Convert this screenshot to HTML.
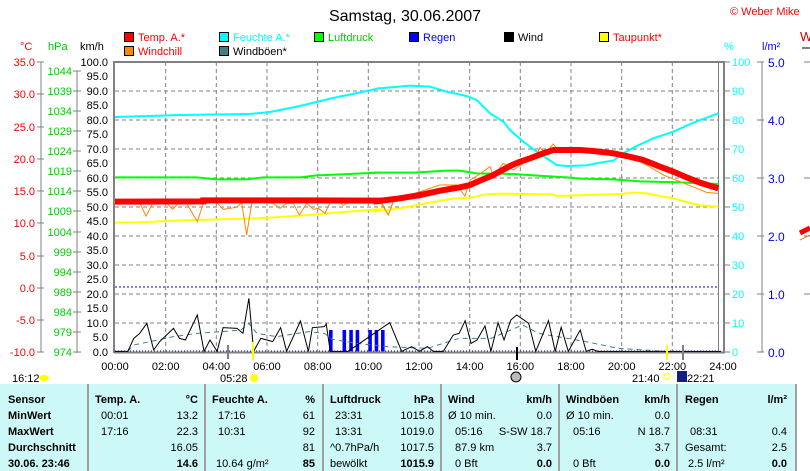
<!DOCTYPE html>
<html><head><meta charset="utf-8"><style>
html,body{margin:0;padding:0;background:#fff;width:810px;height:471px;overflow:hidden}
svg{display:block;font-family:"Liberation Sans",sans-serif;font-size:11px}
.b{font-weight:bold}
</style></head><body>
<svg width="810" height="471" viewBox="0 0 810 471" xmlns="http://www.w3.org/2000/svg">
<text x="405" y="21" font-size="16" text-anchor="middle">Samstag, 30.06.2007</text>
<text x="730" y="15" fill="#f00">© Weber Mike</text>
<text x="800" y="41" fill="#c00" font-size="13">W</text>
<line x1="802" y1="48" x2="810" y2="48" stroke="#808080" stroke-width="2"/>
<g font-size="11">
<rect x="124.5" y="32.5" width="9" height="9" fill="#f00" stroke="#000"/><text x="138" y="41" fill="#f00">Temp. A.*</text>
<rect x="219.5" y="32.5" width="9" height="9" fill="#0ff" stroke="#000"/><text x="233" y="41" fill="#0ff">Feuchte A.*</text>
<rect x="314.5" y="32.5" width="9" height="9" fill="#0f0" stroke="#000"/><text x="328" y="41" fill="#0c0">Luftdruck</text>
<rect x="409.5" y="32.5" width="9" height="9" fill="#00f" stroke="#000"/><text x="423" y="41" fill="#00f">Regen</text>
<rect x="504.5" y="32.5" width="9" height="9" fill="#000" stroke="#000"/><text x="518" y="41">Wind</text>
<rect x="599.5" y="32.5" width="9" height="9" fill="#ff0" stroke="#000"/><text x="613" y="41" fill="#f00">Taupunkt*</text>
<rect x="124.5" y="46.5" width="9" height="9" fill="#f80" stroke="#000"/><text x="138" y="55" fill="#f00">Windchill</text>
<rect x="219.5" y="46.5" width="9" height="9" fill="#408080" stroke="#000"/><text x="233" y="55">Windböen*</text>
</g>
<text x="20" y="50" fill="#f00">°C</text>
<text x="48" y="50" fill="#0c0">hPa</text>
<text x="80" y="50">km/h</text>
<text x="724" y="50" fill="#0ff">%</text>
<text x="762" y="50" fill="#00f">l/m²</text>
<line x1="41" y1="62" x2="41" y2="352" stroke="#808080"/>
<line x1="77" y1="71" x2="77" y2="353" stroke="#808080"/>
<g stroke="#808080" stroke-dasharray="4,3" stroke-width="1">
<line x1="165.7" y1="62" x2="165.7" y2="352"/><line x1="216.3" y1="62" x2="216.3" y2="352"/>
<line x1="267" y1="62" x2="267" y2="352"/><line x1="317.7" y1="62" x2="317.7" y2="352"/>
<line x1="368.3" y1="62" x2="368.3" y2="352"/><line x1="419" y1="62" x2="419" y2="352"/>
<line x1="469.7" y1="62" x2="469.7" y2="352"/><line x1="520.3" y1="62" x2="520.3" y2="352"/>
<line x1="571" y1="62" x2="571" y2="352"/><line x1="621.7" y1="62" x2="621.7" y2="352"/>
<line x1="672.3" y1="62" x2="672.3" y2="352"/>
<line x1="115" y1="91" x2="718" y2="91"/><line x1="115" y1="120" x2="718" y2="120"/>
<line x1="115" y1="149" x2="718" y2="149"/><line x1="115" y1="178" x2="718" y2="178"/>
<line x1="115" y1="207" x2="718" y2="207"/><line x1="115" y1="236" x2="718" y2="236"/>
<line x1="115" y1="265" x2="718" y2="265"/><line x1="115" y1="294" x2="718" y2="294"/>
<line x1="115" y1="323" x2="718" y2="323"/>
</g>
<line x1="115" y1="287" x2="718" y2="287" stroke="#00f" stroke-dasharray="2,2"/>
<line x1="115" y1="351" x2="718" y2="351" stroke="#00f" stroke-dasharray="1,2"/>
<line x1="114" y1="62" x2="725" y2="62" stroke="#808080" stroke-width="2"/>
<line x1="114" y1="61" x2="114" y2="353" stroke="#808080" stroke-width="2"/>
<line x1="114" y1="352.5" x2="725" y2="352.5" stroke="#808080" stroke-width="2"/>
<line x1="718.5" y1="62" x2="718.5" y2="353" stroke="#808080"/>
<line x1="724" y1="61" x2="724" y2="353" stroke="#808080" stroke-width="2"/>
<line x1="762" y1="62" x2="762" y2="352" stroke="#808080"/>

<g transform="translate(110,280) scale(0.3968,0.33333)">
<g fill="#00f"><rect x="552" y="150" width="9" height="64"/><rect x="586" y="150" width="9" height="64"/><rect x="603" y="150" width="9" height="64"/><rect x="619" y="150" width="9" height="64"/><rect x="651" y="150" width="9" height="64"/><rect x="667" y="150" width="9" height="64"/><rect x="683" y="150" width="9" height="64"/></g>
<polyline fill="none" stroke="#408080" stroke-dasharray="5,4" vector-effect="non-scaling-stroke" points="45,214 60,195 100,185 160,170 220,160 280,155 330,150 350,130 370,160 420,170 500,155 540,160 560,178 620,190 700,200 800,205 880,175 960,175 1040,135 1080,160 1200,185 1280,205 1400,214"/>
<polyline fill="none" stroke="#000" vector-effect="non-scaling-stroke" points="12,214 45,214 60,175 75,160 93,130 110,210 125,185 160,145 175,175 190,180 220,105 237,214 252,180 270,214 285,143 320,145 335,160 350,55 362,214 380,175 410,185 430,143 445,214 480,123 500,214 510,143 540,140 545,132 555,214 600,214 705,128 735,214 760,200 780,214 800,200 815,214 840,214 865,165 880,160 895,122 910,190 925,180 945,138 960,214 978,128 993,180 1010,120 1025,105 1055,130 1073,214 1105,122 1122,214 1137,142 1155,214 1185,150 1200,214 1215,208 1230,214 1540,214"/>
</g>

<g transform="translate(110,170) scale(0.33333)" fill="none">
<polyline stroke="#0f0" stroke-width="2" vector-effect="non-scaling-stroke" points="15,22 260,22 320,28 410,28 460,22 570,22 620,16 720,12 800,8 815,8"/>
<polyline stroke="#ff0" stroke-width="2" vector-effect="non-scaling-stroke" points="15,158 90,157 200,152 320,148 420,146 530,140 620,133 700,126 780,120 815,117"/>
<polyline stroke="#f80" stroke-width="1" vector-effect="non-scaling-stroke" points="10,95 90,100 108,138 128,100 170,100 188,118 205,100 230,100 262,155 280,100 320,98 340,118 380,112 395,98 410,195 425,100 440,92 490,100 510,115 530,100 550,100 568,135 590,100 610,118 625,115 645,130 660,98 690,98 700,106 715,98 815,98 835,135 850,92 815,98"/>
<polyline stroke="#f00" stroke-width="6" vector-effect="non-scaling-stroke" points="15,95 280,94 280,91 455,91 515,91 570,91 815,92"/>
</g>
<g transform="translate(380,70) scale(0.33333)" fill="none">
<polyline stroke="#0f0" stroke-width="2" vector-effect="non-scaling-stroke" points="-20,308 100,308 200,302 240,302 290,310 400,312 460,316 560,322 600,326 700,328 780,334 900,337 1015,342"/>
<polyline stroke="#ff0" stroke-width="2" vector-effect="non-scaling-stroke" points="-20,425 60,415 150,398 220,386 270,383 320,373 370,371 520,373 530,378 620,375 720,372 760,368 800,370 840,378 880,385 920,396 960,406 1015,410"/>
<polyline stroke="#0ff" stroke-width="2" vector-effect="non-scaling-stroke" points="0,55 90,47 150,50 200,65 260,78 290,90 330,130 370,155 390,180 430,215 470,245 500,265 530,285 560,288 620,286 660,278 700,272 730,250 770,228 820,205 880,185 940,158 1015,130"/>
<polyline stroke="#f80" stroke-width="1" vector-effect="non-scaling-stroke" points="0,395 25,435 40,395 60,385 120,365 180,345 230,345 255,378 270,330 290,318 330,290 340,318 370,280 400,300 430,280 470,255 480,232 495,250 520,222 540,248 600,242 700,255 760,265 800,285 850,315 900,335 950,355 980,367 1015,370"/>
<polyline stroke="#f00" stroke-width="6" vector-effect="non-scaling-stroke" points="-20,395 60,385 120,375 180,362 210,357 240,352 270,345 300,332 340,315 390,288 420,275 450,265 490,250 520,240 600,240 640,243 700,250 740,258 790,270 840,290 880,305 920,322 960,338 1015,355"/>
</g>
<polyline fill="none" stroke="#0ff" stroke-width="2" points="115,117 150,116 180,115 250,114 270,112 300,106 333,98 367,91 380,88"/>
<line x1="800" y1="233" x2="810" y2="228" stroke="#f00" stroke-width="5"/>
<line x1="800" y1="240" x2="810" y2="235" stroke="#f80" stroke-width="1"/>

<g fill="#f00" text-anchor="end">
<text x="35" y="66">35.0</text><text x="35" y="98">30.0</text><text x="35" y="131">25.0</text><text x="35" y="163">20.0</text><text x="35" y="195">15.0</text><text x="35" y="227">10.0</text><text x="35" y="260">5.0</text><text x="35" y="292">0.0</text><text x="35" y="324">-5.0</text><text x="35" y="356">-10.0</text>
</g>
<g stroke="#808080"><line x1="37" y1="62" x2="44" y2="62"/><line x1="37" y1="94" x2="44" y2="94"/><line x1="37" y1="127" x2="44" y2="127"/><line x1="37" y1="159" x2="44" y2="159"/><line x1="37" y1="191" x2="44" y2="191"/><line x1="37" y1="223" x2="44" y2="223"/><line x1="37" y1="256" x2="44" y2="256"/><line x1="37" y1="288" x2="44" y2="288"/><line x1="37" y1="320" x2="44" y2="320"/><line x1="37" y1="352" x2="44" y2="352"/></g>
<g fill="#0c0" text-anchor="end">
<text x="72" y="75">1044</text><text x="72" y="95">1039</text><text x="72" y="115">1034</text><text x="72" y="135">1029</text><text x="72" y="155">1024</text><text x="72" y="175">1019</text><text x="72" y="195">1014</text><text x="72" y="215">1009</text><text x="72" y="236">1004</text><text x="72" y="256">999</text><text x="72" y="276">994</text><text x="72" y="296">989</text><text x="72" y="316">984</text><text x="72" y="336">979</text><text x="72" y="356">974</text>
</g>
<g stroke="#808080"><line x1="73" y1="71" x2="81" y2="71"/><line x1="73" y1="91" x2="81" y2="91"/><line x1="73" y1="111" x2="81" y2="111"/><line x1="73" y1="131" x2="81" y2="131"/><line x1="73" y1="151" x2="81" y2="151"/><line x1="73" y1="171" x2="81" y2="171"/><line x1="73" y1="191" x2="81" y2="191"/><line x1="73" y1="211" x2="81" y2="211"/><line x1="73" y1="232" x2="81" y2="232"/><line x1="73" y1="252" x2="81" y2="252"/><line x1="73" y1="272" x2="81" y2="272"/><line x1="73" y1="292" x2="81" y2="292"/><line x1="73" y1="312" x2="81" y2="312"/><line x1="73" y1="332" x2="81" y2="332"/><line x1="73" y1="352" x2="81" y2="352"/></g>
<g text-anchor="end">
<text x="108" y="66">100.0</text><text x="108" y="80">95.0</text><text x="108" y="95">90.0</text><text x="108" y="109">85.0</text><text x="108" y="124">80.0</text><text x="108" y="138">75.0</text><text x="108" y="153">70.0</text><text x="108" y="167">65.0</text><text x="108" y="182">60.0</text><text x="108" y="196">55.0</text><text x="108" y="211">50.0</text><text x="108" y="225">45.0</text><text x="108" y="240">40.0</text><text x="108" y="254">35.0</text><text x="108" y="269">30.0</text><text x="108" y="283">25.0</text><text x="108" y="298">20.0</text><text x="108" y="312">15.0</text><text x="108" y="327">10.0</text><text x="108" y="341">5.0</text><text x="108" y="356">0.0</text>
</g>
<g fill="#0ff">
<text x="732" y="66">100</text><text x="732" y="95">90</text><text x="732" y="124">80</text><text x="732" y="153">70</text><text x="732" y="182">60</text><text x="732" y="211">50</text><text x="732" y="240">40</text><text x="732" y="269">30</text><text x="732" y="298">20</text><text x="732" y="327">10</text><text x="732" y="356">0</text>
</g>
<g stroke="#808080"><line x1="724" y1="62" x2="730" y2="62"/><line x1="724" y1="91" x2="730" y2="91"/><line x1="724" y1="120" x2="730" y2="120"/><line x1="724" y1="149" x2="730" y2="149"/><line x1="724" y1="178" x2="730" y2="178"/><line x1="724" y1="207" x2="730" y2="207"/><line x1="724" y1="236" x2="730" y2="236"/><line x1="724" y1="265" x2="730" y2="265"/><line x1="724" y1="294" x2="730" y2="294"/><line x1="724" y1="323" x2="730" y2="323"/><line x1="724" y1="352" x2="730" y2="352"/>
<line x1="757" y1="62" x2="764" y2="62"/><line x1="757" y1="120" x2="764" y2="120"/><line x1="757" y1="178" x2="764" y2="178"/><line x1="757" y1="236" x2="764" y2="236"/><line x1="757" y1="294" x2="764" y2="294"/><line x1="757" y1="352" x2="764" y2="352"/>
<line x1="804" y1="62" x2="810" y2="62"/><line x1="804" y1="178" x2="810" y2="178"/><line x1="804" y1="236" x2="810" y2="236"/><line x1="804" y1="294" x2="810" y2="294"/></g>
<g fill="#00f" font-size="12">
<text x="768" y="67">5.0</text><text x="768" y="125">4.0</text><text x="768" y="183">3.0</text><text x="768" y="241">2.0</text><text x="768" y="299">1.0</text><text x="768" y="357">0.0</text>
</g>
<g text-anchor="middle">
<text x="115" y="370">00:00</text><text x="165.7" y="370">02:00</text><text x="216.3" y="370">04:00</text><text x="267" y="370">06:00</text><text x="317.7" y="370">08:00</text><text x="368.3" y="370">10:00</text><text x="419" y="370">12:00</text><text x="469.7" y="370">14:00</text><text x="520.3" y="370">16:00</text><text x="571" y="370">18:00</text><text x="621.7" y="370">20:00</text><text x="672.3" y="370">22:00</text><text x="723" y="370">24:00</text>
</g>
<line x1="228" y1="345" x2="228" y2="359" stroke="#808080" stroke-width="2"/>
<line x1="253" y1="342" x2="253" y2="360" stroke="#ff0" stroke-width="2"/>
<line x1="517" y1="347" x2="517" y2="360" stroke="#000" stroke-width="2"/>
<line x1="667" y1="345" x2="667" y2="360" stroke="#ff0" stroke-width="2"/>
<line x1="683" y1="345" x2="683" y2="360" stroke="#808080" stroke-width="2"/>
<text x="12" y="382">16:12</text>
<ellipse cx="44" cy="378" rx="5" ry="3" fill="#ff0"/>
<text x="220" y="382">05:28</text>
<circle cx="254" cy="378" r="4" fill="#ff0"/>
<circle cx="516" cy="377" r="5" fill="#bbb" stroke="#000"/>
<text x="632" y="382">21:40</text>
<rect x="664" y="374" width="5" height="5" fill="none" stroke="#ff0"/>
<rect x="677" y="371" width="10" height="11" fill="#102080"/>
<text x="687" y="382">22:21</text>

<rect x="0" y="384" width="797" height="87" fill="#ccf8f8"/>
<g stroke="#a0a0a0" stroke-width="2"><line x1="88" y1="384" x2="88" y2="471"/><line x1="205" y1="384" x2="205" y2="471"/><line x1="323" y1="384" x2="323" y2="471"/><line x1="441" y1="384" x2="441" y2="471"/><line x1="559" y1="384" x2="559" y2="471"/><line x1="677" y1="384" x2="677" y2="471"/><line x1="796" y1="384" x2="796" y2="471"/></g>
<g class="b">
<text x="8" y="403">Sensor</text><text x="8" y="419">MinWert</text><text x="8" y="435">MaxWert</text><text x="8" y="451">Durchschnitt</text><text x="8" y="467">30.06. 23:46</text>
<text x="95" y="403">Temp. A.</text><text x="212" y="403">Feuchte A.</text><text x="330" y="403">Luftdruck</text><text x="448" y="403">Wind</text><text x="566" y="403">Windböen</text><text x="685" y="403">Regen</text>
</g>
<g class="b" text-anchor="end">
<text x="198" y="403">°C</text><text x="315" y="403">%</text><text x="434" y="403">hPa</text><text x="552" y="403">km/h</text><text x="670" y="403">km/h</text><text x="787" y="403">l/m²</text>
<text x="198" y="467">14.6</text><text x="315" y="467">85</text><text x="434" y="467">1015.9</text><text x="552" y="467">0.0</text><text x="670" y="467">0.0</text><text x="787" y="467">0.0</text>
</g>
<g>
<text x="101" y="419">00:01</text><text x="101" y="435">17:16</text>
<text x="218" y="419">17:16</text><text x="218" y="435">10:31</text><text x="216" y="467">10.64 g/m²</text>
<text x="335" y="419">23:31</text><text x="335" y="435">13:31</text><text x="330" y="451">^0.7hPa/h</text><text x="330" y="467">bewölkt</text>
<text x="448" y="419">Ø 10 min.</text><text x="455" y="435">05:16</text><text x="455" y="451">87.9 km</text><text x="455" y="467">0 Bft</text>
<text x="566" y="419">Ø 10 min.</text><text x="573" y="435">05:16</text><text x="573" y="467">0 Bft</text>
<text x="690" y="435">08:31</text><text x="685" y="451">Gesamt:</text><text x="688" y="467">2.5 l/m²</text>
</g>
<g text-anchor="end">
<text x="198" y="419">13.2</text><text x="198" y="435">22.3</text><text x="198" y="451">16.05</text>
<text x="315" y="419">61</text><text x="315" y="435">92</text><text x="315" y="451">81</text>
<text x="434" y="419">1015.8</text><text x="434" y="435">1019.0</text><text x="434" y="451">1017.5</text>
<text x="552" y="419">0.0</text><text x="552" y="435">S-SW 18.7</text><text x="552" y="451">3.7</text>
<text x="670" y="419">0.0</text><text x="670" y="435">N 18.7</text><text x="670" y="451">3.7</text>
<text x="787" y="435">0.4</text><text x="787" y="451">2.5</text>
</g>
</svg>
</body></html>
